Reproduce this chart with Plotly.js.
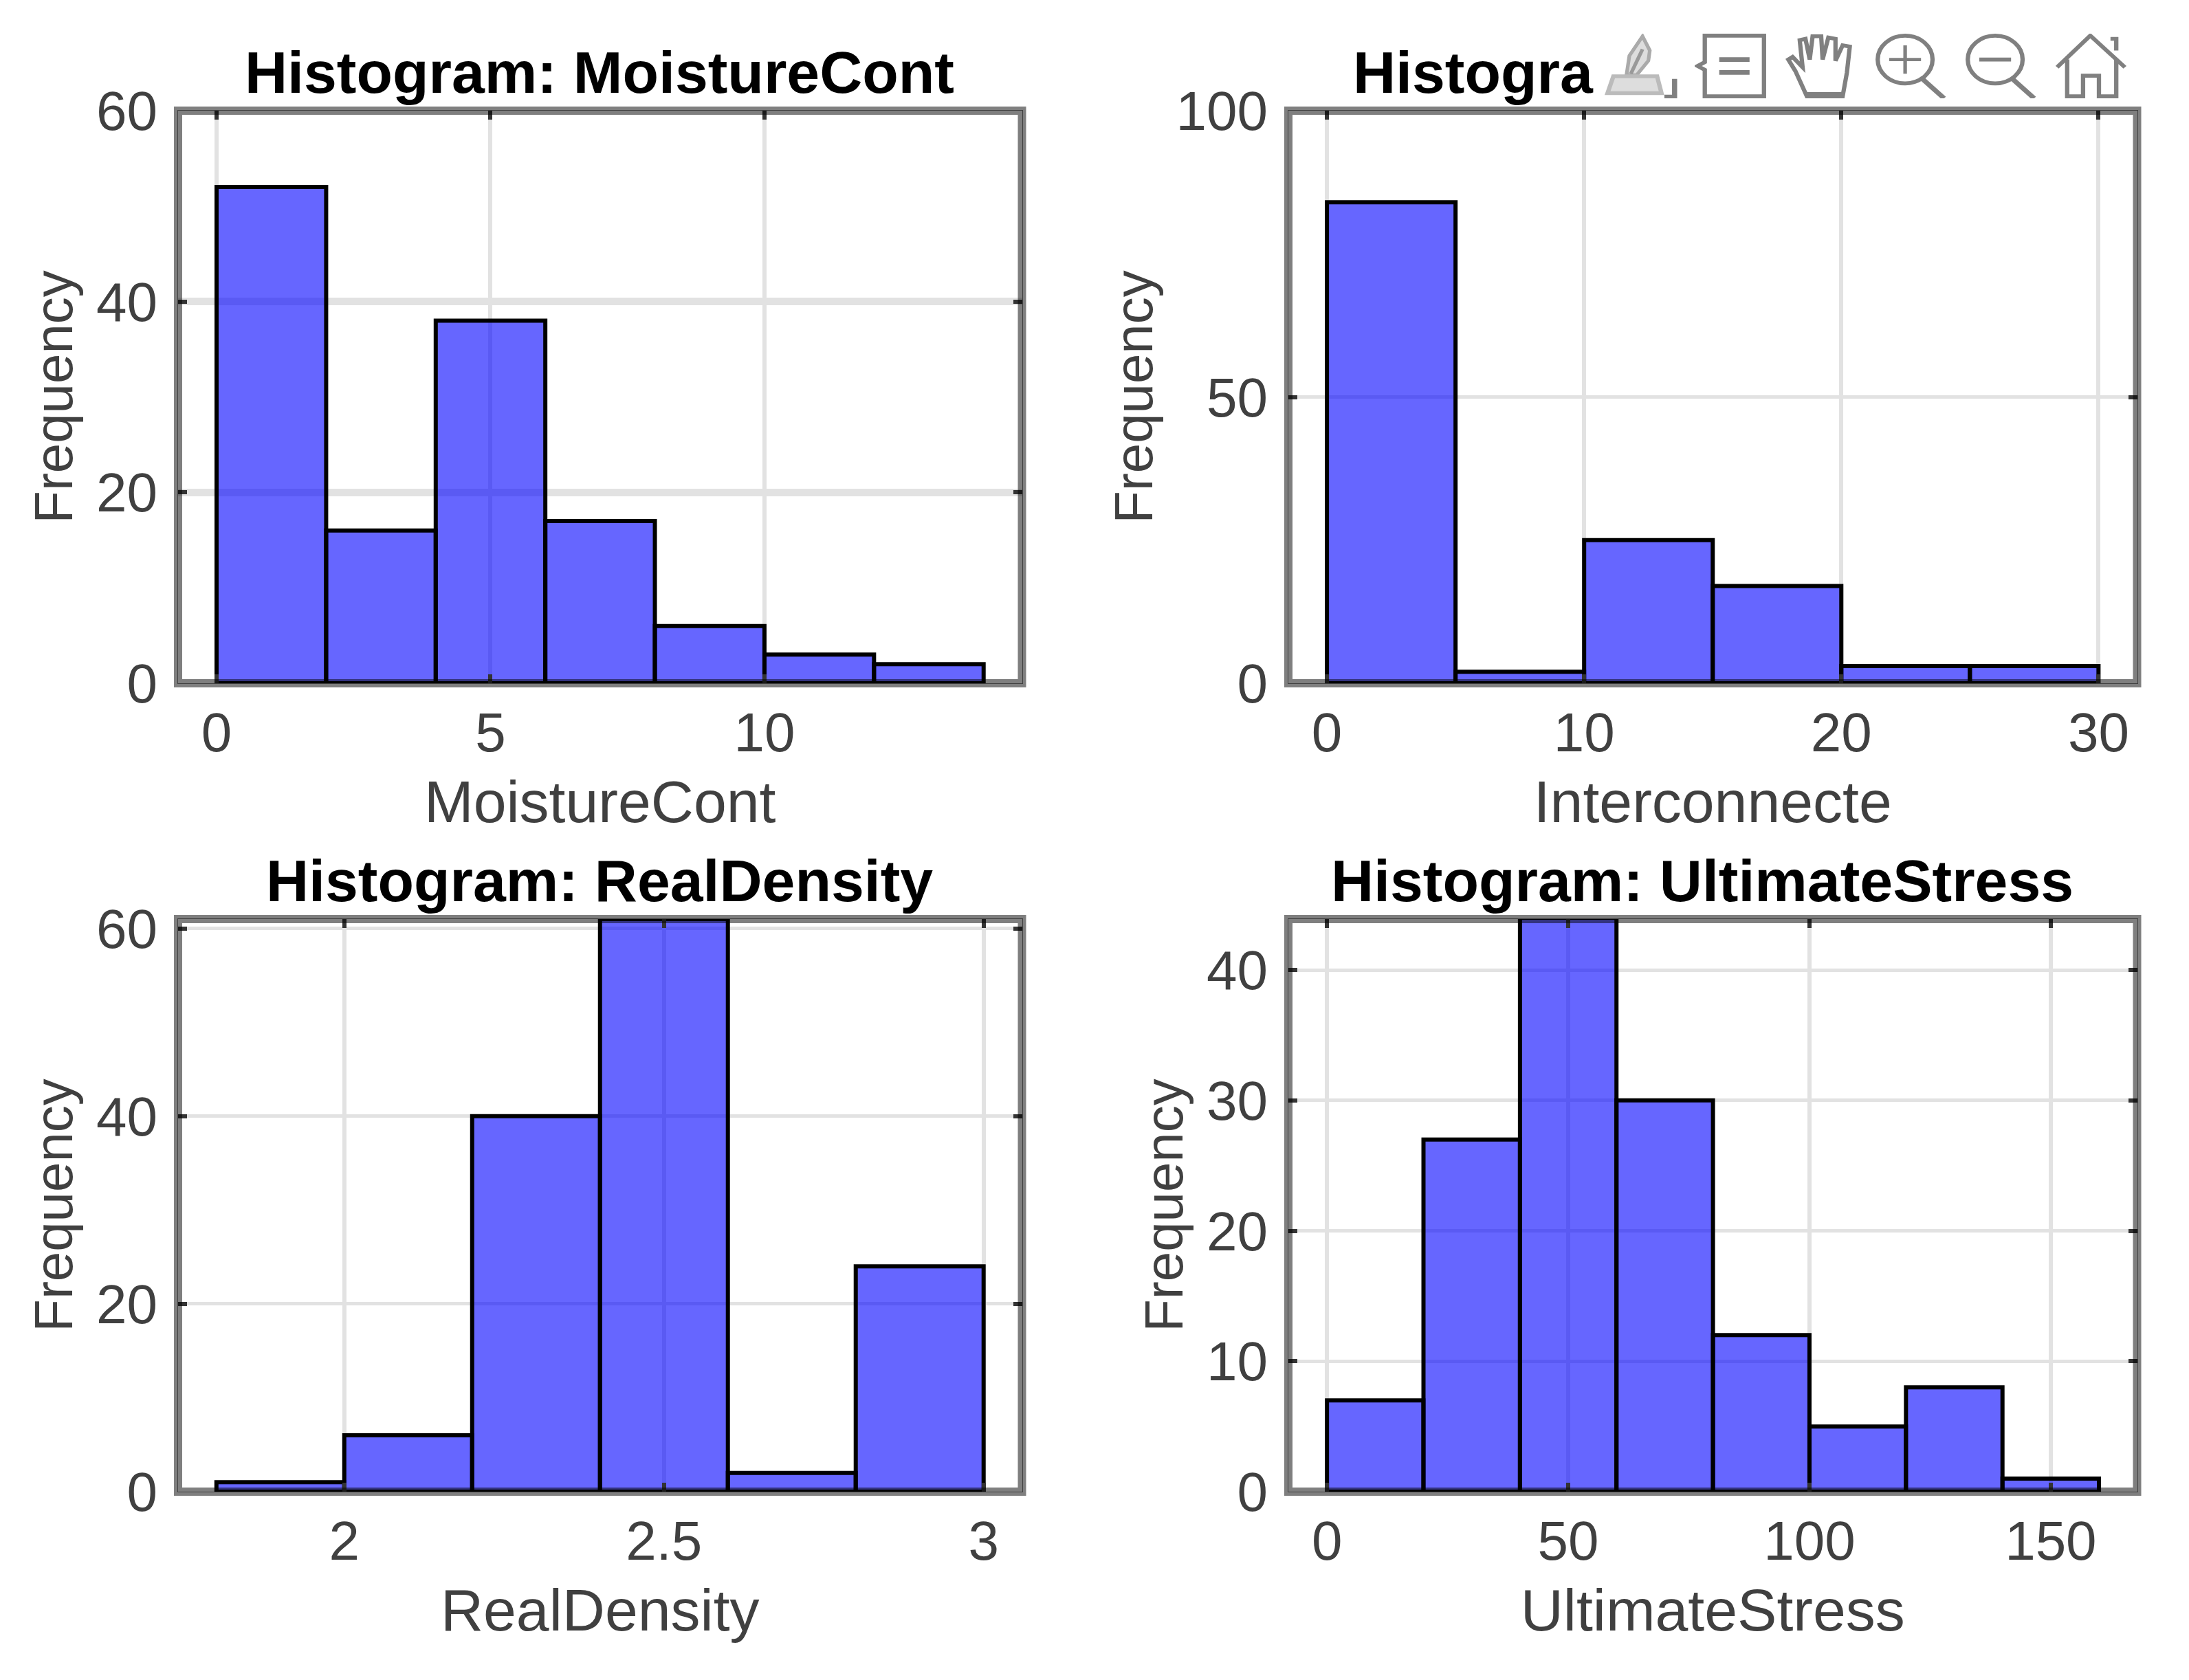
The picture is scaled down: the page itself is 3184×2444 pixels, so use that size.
<!DOCTYPE html>
<html><head><meta charset="utf-8">
<script src="https://cdn.plot.ly/plotly-3.0.1.min.js"></script>
<style>html,body{margin:0;padding:0;background:#fff}</style></head>
<body><div id="chart" style="width:3184px;height:2444px"></div>
<script>
// ---- data ----
const moistureEdges = [0,2,4,6,8,10,12];
const moistureCounts = [52,16,38,17,6,3,2];
const moistureWidth = 2;
const interEdges = [0,5,10,15,20,25];
const interCounts = [84,2,25,17,3,3];
const interWidth = 5;
const densityEdges = [1.8,2.0,2.2,2.4,2.6,2.8];
const densityCounts = [1,6,40,61,2,24];
const densityWidth = 0.2;
const stressEdges = [0,20,40,60,80,100,120,140];
const stressCounts = [7,27,44,30,12,5,8,1];
const stressWidth = 20;

const W = 3184, H = 2444;
const LEFT = [259,1486.5], RIGHT = [1874,3108.5];
const TOP = [161,994], BOTTOM = [1337,2170];
const px = v => v / W, py = v => 1 - v / H;

const FONT = '"Liberation Sans", Arial, sans-serif';
const TICK = '#404040', LINE = '#808080', GRID = '#e2e2e2';

function bar(x, y, w, xa, ya){
  return {type:'bar', x:x, y:y, width:x.map(()=>w), offset:0, xaxis:xa, yaxis:ya,
    marker:{color:'rgba(0,0,255,0.6)', line:{color:'#000', width:6}}, hoverinfo:'skip', showlegend:false};
}
function xaxis(dom, range, vals, txt, anchor, title){
  return {domain:[px(dom[0]),px(dom[1])], range:range, anchor:anchor, tickmode:'array', tickvals:vals, ticktext:txt,
    showline:true, linewidth:1, linecolor:LINE, mirror:'allticks', ticks:'inside', ticklen:13, tickwidth:6, tickcolor:'#333',
    showgrid:true, gridcolor:GRID, gridwidth:6, zeroline:false,
    tickfont:{family:FONT,size:80,color:TICK}, ticklabelstandoff:2,
    title:{text:title, font:{family:FONT,size:86,color:TICK}, standoff:26}};
}
function yaxis(dom, range, vals, anchor, gw){
  return {domain:[py(dom[1]),py(dom[0])], range:range, anchor:anchor, tickmode:'array', tickvals:vals,
    showline:true, linewidth:1, linecolor:LINE, mirror:'allticks', ticks:'inside', ticklen:13, tickwidth:6, tickcolor:'#333',
    showgrid:true, gridcolor:GRID, gridwidth:gw, zeroline:false,
    tickfont:{family:FONT,size:80,color:TICK}, ticklabelstandoff:13,
    title:{text:'Frequency', font:{family:FONT,size:78,color:TICK}, standoff:8}};
}
function frame(xa, ya){
  return {type:'rect', xref:xa+' domain', yref:ya+' domain', x0:0, x1:1, y0:0, y1:1, layer:'above',
    line:{color:'rgba(0,0,0,0.5)', width:12}, fillcolor:'rgba(0,0,0,0)'};
}
function title(text, x, y, xanchor){
  return {text:'<b>'+text+'</b>', xref:'paper', yref:'paper', x:px(x), y:py(y), xanchor:xanchor, yanchor:'middle',
    showarrow:false, font:{family:FONT,size:86,color:'#000'}};
}
const st = 'fill="none" stroke="#808080" stroke-width="6"';
const icons = {
 brush:[2334,106,`<path d="M52 4 L62 26 L60 42 L44 64 L30 64 L34 34Z" fill="#ddd" stroke="#aaa" stroke-width="5"/><path d="M36 62 L52 24" stroke="#999" stroke-width="5"/><path d="M4 92 L12 66 L72 66 L78 92Z" fill="#ddd" stroke="#bbb" stroke-width="6"/><path d="M82 98 L96 98 L96 70" fill="none" stroke="#808080" stroke-width="7"/>`],
 legend:[2465,105,`<path d="M14 3 L96 3 L96 97 L14 97 L14 56 L4 50 L14 44Z" ${st}/><path d="M34 40 L76 40 M34 60 L76 60" stroke="#808080" stroke-width="7"/>`],
 hand:[2597,104,`<path d="M30 97 L14 58 L4 40 L10 36 L24 52 L20 10 L28 8 L34 40 L38 4 L50 4 L52 40 L60 6 L70 8 L70 42 L80 18 L90 20 L86 60 L80 97Z" ${st}/><path d="M30 94 L80 94" stroke="#808080" stroke-width="7"/>`],
 zin:[2727,105,`<ellipse cx="42" cy="40" rx="38" ry="37" ${st}/><path d="M42 18 L42 62 M20 40 L64 40" stroke="#808080" stroke-width="5"/><path d="M66 70 L96 100" stroke="#808080" stroke-width="7"/>`],
 zout:[2858,105,`<ellipse cx="42" cy="40" rx="38" ry="37" ${st}/><path d="M20 40 L64 40" stroke="#808080" stroke-width="6"/><path d="M66 70 L96 100" stroke="#808080" stroke-width="7"/>`],
 home:[2990,105,`<path d="M2 52 L48 3 L96 52 M16 40 L16 97 L38 97 L38 65 L60 65 L60 97 L84 97 L84 40 M76 8 L84 8 L84 26" ${st}/>`]
};
function svg(body){
  return 'data:image/svg+xml;utf8,'+encodeURIComponent('<svg xmlns="http://www.w3.org/2000/svg" viewBox="0 0 100 100" preserveAspectRatio="none">'+body+'</svg>');
}
const images = Object.values(icons).map(i => ({source:svg(i[2]), xref:'paper', yref:'paper', x:px(i[0]), y:py(49),
  sizex:i[1]/W, sizey:94/H, sizing:'stretch', xanchor:'left', yanchor:'top', layer:'above'}));

const data = [
  bar(moistureEdges, moistureCounts, moistureWidth, 'x','y'),
  bar(interEdges, interCounts, interWidth, 'x2','y2'),
  bar(densityEdges, densityCounts, densityWidth, 'x3','y3'),
  bar(stressEdges, stressCounts, stressWidth, 'x4','y4')
];
const layout = {
  width:W, height:H, margin:{l:0,r:0,t:0,b:0}, paper_bgcolor:'#fff', plot_bgcolor:'#fff', barmode:'overlay', showlegend:false,
  xaxis: xaxis(LEFT,[-0.703,14.70],[0,5,10],['0','5','10'],'y','MoistureCont'),
  yaxis: yaxis(TOP,[0,60],[0,20,40,60],'x',11),
  xaxis2:xaxis(RIGHT,[-1.5,31.5],[0,10,20,30],['0','10','20','30'],'y2','Interconnecte'),
  yaxis2:yaxis(TOP,[0,100],[0,50,100],'x2',5),
  xaxis3:xaxis(LEFT,[1.74,3.06],[2,2.5,3],['2','2.5','3'],'y3','RealDensity'),
  yaxis3:yaxis(BOTTOM,[0,61],[0,20,40,60],'x3',5),
  xaxis4:xaxis(RIGHT,[-8,167.9],[0,50,100,150],['0','50','100','150'],'y4','UltimateStress'),
  yaxis4:yaxis(BOTTOM,[0,43.9],[0,10,20,30,40],'x4',5),
  shapes:[frame('x','y'),frame('x2','y2'),frame('x3','y3'),frame('x4','y4')],
  annotations:[
    title('Histogram: MoistureCont',872,105,'center'),
    title('Histogra',1966,105,'left'),
    title('Histogram: RealDensity',872,1281,'center'),
    title('Histogram: UltimateStress',2476,1281,'center')
  ],
  images:images
};
Plotly.newPlot('chart', data, layout, {displayModeBar:false, staticPlot:true});
</script></body></html>
